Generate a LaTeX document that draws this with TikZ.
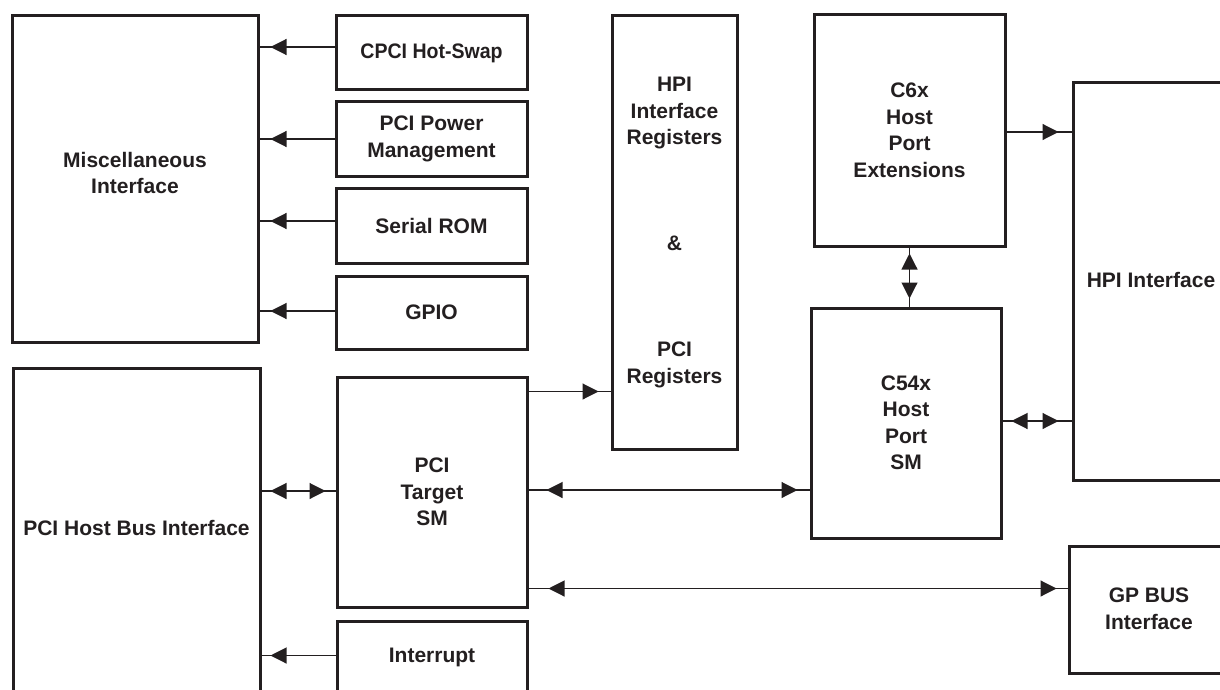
\documentclass[tikz,border=0pt]{standalone}
\usepackage{fontspec}
\setmainfont{Liberation Sans}
\usetikzlibrary{arrows.meta}
\definecolor{fg}{HTML}{231F20}
\tikzset{
  >={Triangle[length=16pt,width=16pt]},
  box/.style={draw=fg, line width=3pt, inner sep=0pt, align=center, text=fg,
              font=\fontsize{21}{26.5}\selectfont\bfseries},
  lbl/.style={inner sep=0pt, align=center, text=fg,
              font=\fontsize{21}{26.5}\selectfont\bfseries},
  conn/.style={draw=fg, line width=1.1pt},
  gapend/.style={postaction={draw=fg, line width=1.1pt, ->, shorten >=#1}},
  gapboth/.style 2 args={postaction={draw=fg, line width=1.1pt, <->, shorten <=#1, shorten >=#2}},
}
\begin{document}
\begin{tikzpicture}[x=1pt,y=-1pt]
\useasboundingbox (0,0) rectangle (1220,690);
\clip (0,0) rectangle (1220,690);
\fill[white] (0,0) rectangle (1220,690);

% boxes
\node[box, minimum width=246pt, minimum height=326pt] (misc) at (135,179) {};
\node[lbl] (misclbl) at (135,173) {Miscellaneous\\Interface};
\node[box, minimum width=191pt, minimum height=74pt] (cpci) at (431.5,53) {\scalebox{0.93}[1]{CPCI Hot-Swap}};
\node[box, minimum width=191pt, minimum height=74pt] (power) at (431.5,139) {PCI Power\\Management};
\node[box, minimum width=191pt, minimum height=75pt] (serial) at (431.5,225.5) {Serial ROM};
\node[box, minimum width=191pt, minimum height=73pt] (gpio) at (431.5,312.5) {GPIO};
\node[box, minimum width=125pt, minimum height=433pt] (regs) at (674.5,232.5)
  {HPI\\Interface\\Registers\\[79.5pt]\&\\[79.5pt]PCI\\Registers};
\node[box, minimum width=191pt, minimum height=231pt] (c6x) at (909.5,130.5) {C6x\\Host\\Port\\Extensions};
\node[box, minimum width=190pt, minimum height=230pt] (c54x) at (906,423) {C54x\\Host\\Port\\SM};
\node[box, minimum width=167pt, minimum height=397pt] (hpi) at (1156.5,281.5) {};
\node[lbl] (hpilbl) at (1151,280) {HPI Interface};
\node[box, minimum width=247pt, minimum height=352pt] (host) at (136.5,544) {};
\node[lbl] (hostlbl) at (136.5,528) {PCI Host Bus Interface};
\node[box, minimum width=190pt, minimum height=230pt] (target) at (432,492) {PCI\\Target\\SM};
\node[box, minimum width=190pt, minimum height=99pt] (intr) at (432,670.5) {};
\node[lbl] (intrlbl) at (432,657) {Interrupt};
\node[box, minimum width=171pt, minimum height=127pt] (gp) at (1154.5,609.5) {};
\node[lbl] (gplbl) at (1149,609) {GP BUS\\Interface};

% connectors to Miscellaneous Interface
\draw[conn, gapend=11pt] ([yshift=6pt]cpci.west) coordinate (p1) -- (p1 -| misc.east);
\draw[conn, gapend=11pt] (power.west) coordinate (p2) -- (p2 -| misc.east);
\draw[conn, gapend=11pt] ([yshift=4.5pt]serial.west) coordinate (p3) -- (p3 -| misc.east);
\draw[conn, gapend=11pt] ([yshift=1.5pt]gpio.west) coordinate (p4) -- (p4 -| misc.east);

% PCI host bus
\draw[conn, gapboth={10pt}{9pt}] ([yshift=1pt]target.west) coordinate (p5) -- (p5 -| host.east);
\draw[conn, gapend=9pt] ([yshift=-36pt]intr.north west) coordinate (p6) -- (p6 -| host.east);

% PCI target to right side
\draw[conn, gapend=12pt] ([yshift=-16pt]target.north east) coordinate (p7) -- (p7 -| regs.west);
\draw[conn, gapboth={18pt}{12pt}] ([yshift=2pt]target.east) coordinate (p8) -- (p8 -| c54x.west);
\draw[conn, gapboth={20pt}{11pt}] ([yshift=20pt]target.south east) coordinate (p9) -- (p9 -| gp.west);

% host port blocks to HPI interface
\draw[conn, gapboth={9pt}{13pt}] ([yshift=2pt]c54x.east) coordinate (p10) -- (p10 -| hpi.west);
\draw[conn, gapend=13pt] ([yshift=-1.5pt]c6x.east) coordinate (p11) -- (p11 -| hpi.west);
\draw[conn, gapboth={6pt}{8pt}] (c6x.south) -- (c6x.south |- c54x.north);
\end{tikzpicture}
\end{document}
